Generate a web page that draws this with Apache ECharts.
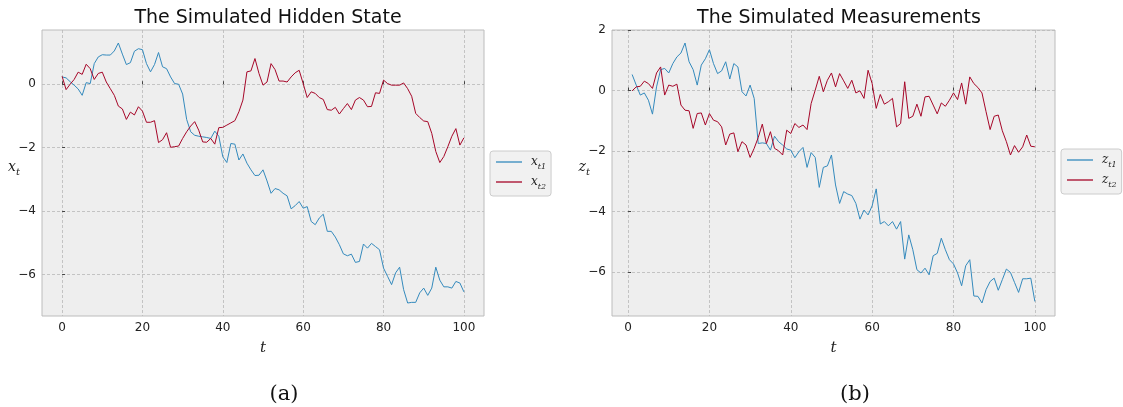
<!DOCTYPE html>
<html>
<head>
<meta charset="utf-8">
<script src="https://cdn.jsdelivr.net/npm/echarts@6/dist/echarts.min.js"></script>
<style>
  html, body { margin: 0; padding: 0; background: #ffffff; }
  #chart { width: 1123px; height: 407px; }
</style>
</head>
<body>
<div id="chart"></div>
<script>
// Hidden state, t = 0..100
const hiddenX1 = [0.23, 0.20, 0.08, -0.03, -0.15, -0.35, 0.05, 0.02, 0.65, 0.86,
  0.93, 0.92, 0.92, 1.05, 1.30, 0.95, 0.62, 0.68, 1.04, 1.12,
  1.09, 0.65, 0.39, 0.62, 1.00, 0.55, 0.49, 0.23, 0.02, 0.00,
  -0.31, -1.11, -1.50, -1.61, -1.64, -1.66, -1.68, -1.71, -1.48, -1.64,
  -2.29, -2.47, -1.87, -1.89, -2.39, -2.20, -2.49, -2.70, -2.88, -2.87,
  -2.70, -3.05, -3.44, -3.29, -3.33, -3.44, -3.52, -3.93, -3.83, -3.70,
  -3.91, -3.86, -4.33, -4.43, -4.22, -4.10, -4.64, -4.64, -4.82, -5.06,
  -5.35, -5.41, -5.36, -5.62, -5.59, -5.04, -5.17, -5.02, -5.12, -5.22,
  -5.80, -6.06, -6.32, -5.95, -5.77, -6.48, -6.90, -6.88, -6.88, -6.58,
  -6.43, -6.66, -6.43, -5.77, -6.18, -6.39, -6.39, -6.43, -6.22, -6.27,
  -6.55];
const hiddenX2 = [0.25, -0.17, 0.00, 0.15, 0.38, 0.31, 0.63, 0.49, 0.15, 0.34,
  0.38, 0.07, -0.14, -0.35, -0.69, -0.78, -1.11, -0.88, -0.97, -0.71,
  -0.85, -1.20, -1.20, -1.15, -1.84, -1.75, -1.53, -1.99, -1.97, -1.95,
  -1.71, -1.50, -1.32, -1.18, -1.45, -1.82, -1.83, -1.71, -1.89, -1.37,
  -1.36, -1.29, -1.22, -1.15, -0.87, -0.50, 0.39, 0.42, 0.81, 0.34,
  -0.03, 0.07, 0.65, 0.46, 0.10, 0.10, 0.07, 0.23, 0.36, 0.44,
  0.02, -0.42, -0.24, -0.29, -0.42, -0.48, -0.80, -0.82, -0.73, -0.94,
  -0.77, -0.61, -0.80, -0.50, -0.42, -0.50, -0.71, -0.70, -0.27, -0.29,
  0.13, 0.02, -0.03, -0.03, -0.03, 0.04, -0.14, -0.38, -0.92, -1.05,
  -1.16, -1.18, -1.55, -2.12, -2.47, -2.28, -1.97, -1.64, -1.40, -1.92,
  -1.69];

// Measurements, t = 1..100
const measZ1 = [0.53, 0.18, -0.15, -0.08, -0.32, -0.78, 0.12, 0.69, 0.73, 0.58,
  0.89, 1.11, 1.24, 1.57, 0.95, 0.69, 0.18, 0.84, 1.05, 1.35,
  0.89, 0.56, 0.65, 0.95, 0.38, 0.89, 0.78, -0.04, -0.18, 0.18,
  -0.26, -1.75, -1.73, -1.75, -1.97, -1.51, -1.69, -1.80, -1.93, -1.97,
  -2.22, -2.02, -1.88, -2.54, -2.05, -2.21, -3.20, -2.54, -2.49, -2.13,
  -3.12, -3.73, -3.34, -3.42, -3.47, -3.73, -4.25, -3.95, -4.11, -3.81,
  -3.25, -4.41, -4.33, -4.47, -4.33, -4.58, -4.33, -5.57, -4.77, -5.26,
  -5.92, -6.03, -5.87, -6.09, -5.46, -5.38, -4.88, -5.26, -5.59, -5.73,
  -6.03, -6.45, -5.79, -5.59, -6.79, -6.80, -7.02, -6.58, -6.31, -6.20,
  -6.60, -6.25, -5.90, -6.01, -6.34, -6.67, -6.22, -6.22, -6.20, -6.97];
const measZ2 = [-0.01, 0.12, 0.14, 0.31, 0.23, 0.07, 0.58, 0.78, -0.15, 0.18,
  0.14, 0.21, -0.48, -0.65, -0.67, -1.25, -0.76, -0.74, -1.14, -0.76,
  -0.98, -1.03, -1.20, -1.80, -1.44, -1.40, -2.02, -1.69, -1.80, -2.21,
  -1.91, -1.55, -1.11, -1.75, -1.36, -1.91, -1.99, -2.13, -1.31, -1.42,
  -1.09, -1.22, -1.14, -1.29, -0.43, 0.01, 0.47, -0.04, 0.34, 0.58,
  0.12, 0.56, 0.32, 0.07, 0.34, -0.08, -0.01, -0.26, 0.67, 0.23,
  -0.59, -0.13, -0.45, -0.37, -0.26, -1.20, -1.09, 0.29, -0.92, -0.85,
  -0.45, -0.85, -0.21, -0.19, -0.48, -0.77, -0.41, -0.52, -0.32, -0.08,
  -0.30, 0.25, -0.45, 0.45, 0.23, 0.10, -0.08, -0.70, -1.29, -0.85,
  -0.81, -1.33, -1.69, -2.13, -1.82, -2.04, -1.86, -1.47, -1.84, -1.86];

const xTicks = [0, 20, 40, 60, 80, 100];
const yTicksHidden = [-6, -4, -2, 0];
const yTicksMeas = [-6, -4, -2, 0, 2];

const BLUE = '#348ABD';
const RED = '#A60628';
const TEXT = '#222222';
const MATH_FONT = 'DejaVu Serif';

const mathRich = (size) => ({
  m: { fontFamily: MATH_FONT, fontStyle: 'italic', fontSize: size, lineHeight: size + 6, verticalAlign: 'middle', color: TEXT },
  s: { fontFamily: MATH_FONT, fontStyle: 'italic', fontSize: Math.round(size * 0.7), lineHeight: Math.round(size * 0.7), verticalAlign: 'bottom', color: TEXT }
});

const fmtMinus = (v) => String(v).replace('-', '\u2212');

function xAxisOf(gridIndex, min, max) {
  return {
    type: 'value', gridIndex, min, max,
    name: '{m|t}', nameLocation: 'middle', nameGap: 22,
    nameTextStyle: { rich: mathRich(15) },
    axisLine: { show: false },
    axisTick: { show: true, inside: true, length: 3, customValues: xTicks, lineStyle: { color: '#444', width: 1 } },
    axisLabel: { customValues: xTicks, margin: 6, fontFamily: 'DejaVu Sans', fontSize: 12, color: TEXT, formatter: fmtMinus },
    splitLine: { show: true, lineStyle: { color: '#b8b8b8', width: 0.8, type: [3, 2] } }
  };
}

function yAxisOf(gridIndex, min, max, ticks, sym) {
  return {
    type: 'value', gridIndex, min, max,
    name: '{m|' + sym + '}{s|t}', nameLocation: 'middle', nameRotate: 0, nameGap: 22,
    nameMoveOverlap: false,
    nameTextStyle: { rich: mathRich(14), padding: [0, 0, 12, 0] },
    axisLine: { show: false },
    axisTick: { show: true, inside: true, length: 3, customValues: ticks, lineStyle: { color: '#444', width: 1 } },
    axisLabel: { customValues: ticks, margin: 6, fontFamily: 'DejaVu Sans', fontSize: 12, color: TEXT, formatter: fmtMinus },
    splitLine: { show: true, lineStyle: { color: '#b8b8b8', width: 0.8, type: [3, 2] } }
  };
}

function legendOf(left, top, names) {
  return {
    orient: 'vertical', left, top,
    data: names,
    icon: 'rect', itemWidth: 26, itemHeight: 1.3, itemGap: 5,
    padding: [5, 5, 5, 6],
    backgroundColor: 'rgba(241,241,241,1)', borderColor: '#cccccc', borderWidth: 1, borderRadius: 3,
    formatter: (name) => {
      const p = name.split('_');
      return '{m|' + p[0] + '}{s|' + p[1] + '}';
    },
    textStyle: { rich: mathRich(12), padding: [0, 0, 0, 4] }
  };
}

function lineSeries(name, xi, yi, values, t0, color) {
  return {
    name, type: 'line', xAxisIndex: xi, yAxisIndex: yi,
    data: values.map((v, i) => [t0 + i, v]),
    showSymbol: false, symbol: 'none',
    lineStyle: { color, width: 1 }, itemStyle: { color },
    animation: false
  };
}

const chart = echarts.init(document.getElementById('chart'), null, { renderer: 'canvas' });
chart.setOption({
  animation: false,
  backgroundColor: '#ffffff',
  title: [
    { text: 'The Simulated Hidden State', left: 263, top: 4, textAlign: 'center',
      textStyle: { fontFamily: 'DejaVu Sans', fontSize: 19, fontWeight: 'normal', color: '#111' } },
    { text: 'The Simulated Measurements', left: 834, top: 4, textAlign: 'center',
      textStyle: { fontFamily: 'DejaVu Sans', fontSize: 19, fontWeight: 'normal', color: '#111' } },
    { text: '(a)', left: 279, top: 379, textAlign: 'center',
      textStyle: { fontFamily: 'DejaVu Serif', fontSize: 21, fontWeight: 'normal', color: '#111' } },
    { text: '(b)', left: 850, top: 379, textAlign: 'center',
      textStyle: { fontFamily: 'DejaVu Serif', fontSize: 21, fontWeight: 'normal', color: '#111' } }
  ],
  grid: [
    { left: 42, top: 30, width: 442, height: 286, show: true, backgroundColor: '#eeeeee', borderColor: '#bcbcbc', borderWidth: 1 },
    { left: 612, top: 30, width: 443, height: 286, show: true, backgroundColor: '#eeeeee', borderColor: '#bcbcbc', borderWidth: 1 }
  ],
  xAxis: [xAxisOf(0, -5, 105), xAxisOf(1, -3.95, 104.95)],
  yAxis: [yAxisOf(0, -7.31, 1.71, yTicksHidden, 'x'), yAxisOf(1, -7.45, 2.0, yTicksMeas, 'z')],
  legend: [
    legendOf(490, 151, ['x_t1', 'x_t2']),
    legendOf(1061, 149, ['z_t1', 'z_t2'])
  ],
  series: [
    lineSeries('x_t1', 0, 0, hiddenX1, 0, BLUE),
    lineSeries('x_t2', 0, 0, hiddenX2, 0, RED),
    lineSeries('z_t1', 1, 1, measZ1, 1, BLUE),
    lineSeries('z_t2', 1, 1, measZ2, 1, RED)
  ]
});
</script>
</body>
</html>
